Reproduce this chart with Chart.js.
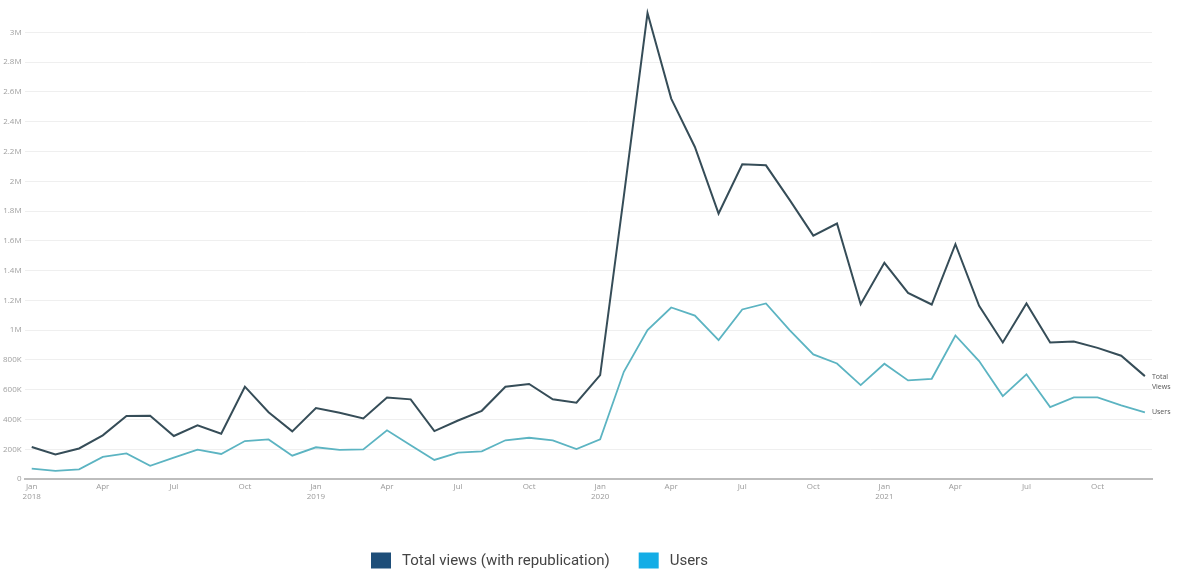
<!DOCTYPE html>
<html>
<head>
<meta charset="utf-8">
<script src="https://cdn.jsdelivr.net/npm/chart.js@4.4.0/dist/chart.umd.min.js"></script>
<style>
  html, body { margin: 0; padding: 0; background: #ffffff; }
  #wrap { width: 1177px; height: 571px; position: relative; }
</style>
</head>
<body>
<div id="wrap"><canvas id="chart"></canvas></div>
<script>
// Monthly series, Jan 2018 – Dec 2021
const monthNames = ['Jan','Feb','Mar','Apr','May','Jun','Jul','Aug','Sep','Oct','Nov','Dec'];
const years = [2018, 2019, 2020, 2021];
const months = years.flatMap(y => monthNames.map(m => m + ' ' + y));

const totalViews = [
  215000, 165000, 205000, 293000, 423000, 425000, 289000, 360000, 304000, 620000, 448000, 320000,
  477000, 445000, 407000, 548000, 535000, 322000, 393000, 458000, 620000, 638000, 535000, 512000,
  698000, 1900000, 3130000, 2555000, 2230000, 1783000, 2114000, 2107000, 1875000, 1635000, 1716000, 1174000,
  1452000, 1250000, 1172000, 1577000, 1163000, 917000, 1179000, 917000, 924000, 881000, 828000, 691000
];

const users = [
  69000, 54000, 65000, 148000, 172000, 89000, 143000, 197000, 168000, 255000, 266000, 157000,
  213000, 195000, 199000, 327000, 226000, 128000, 177000, 186000, 260000, 277000, 260000, 201000,
  266000, 720000, 1000000, 1152000, 1098000, 933000, 1139000, 1179000, 1000000, 837000, 776000, 631000,
  774000, 662000, 673000, 964000, 792000, 557000, 703000, 483000, 548000, 548000, 494000, 447000
];

// Quarterly tick labels (every third month)
const tickLabels = [
  ['Jan', '2018'], 'Apr', 'Jul', 'Oct',
  ['Jan', '2019'], 'Apr', 'Jul', 'Oct',
  ['Jan', '2020'], 'Apr', 'Jul', 'Oct',
  ['Jan', '2021'], 'Apr', 'Jul', 'Oct'
];

// Value-axis ticks
const yTickValues = [
  0, 200000, 400000, 600000, 800000, 1000000, 1200000, 1400000,
  1600000, 1800000, 2000000, 2200000, 2400000, 2600000, 2800000, 3000000
];

const seriesNames = ['Total views (with republication)', 'Users'];
const endLabelTexts = [['Total', 'Views'], ['Users']];

const lineColors = ['#364d58', '#5cb4c2'];
const legendColors = ['#1e4e79', '#14ade6'];

const toPoints = arr => arr.map((v, i) => ({ x: i, y: v }));

// Small text beside the final point of each line
const endLabels = {
  id: 'endLabels',
  afterDatasetsDraw(chart) {
    const ctx = chart.ctx;
    ctx.save();
    ctx.font = '7px "Open Sans", sans-serif';
    ctx.fillStyle = '#555555';
    ctx.textBaseline = 'middle';
    ctx.textAlign = 'left';
    chart.data.datasets.forEach((ds, i) => {
      const meta = chart.getDatasetMeta(i);
      const last = meta.data[meta.data.length - 1];
      const lines = endLabelTexts[i];
      const startY = lines.length > 1 ? last.y + 1 : last.y;
      lines.forEach((t, j) => ctx.fillText(t, last.x + 7, startY + j * 10));
    });
    ctx.restore();
  }
};

// Legend row along the bottom of the canvas
const bottomLegend = {
  id: 'bottomLegend',
  afterDraw(chart) {
    const ctx = chart.ctx;
    const boxW = 20, boxH = 16, boxGap = 11, itemGap = 29;
    const rowMid = chart.height - 10.5;
    let x = 371;
    ctx.save();
    ctx.font = '15px Roboto, sans-serif';
    ctx.textBaseline = 'middle';
    ctx.textAlign = 'left';
    chart.data.datasets.forEach((ds, i) => {
      ctx.fillStyle = legendColors[i];
      ctx.fillRect(x, rowMid - boxH / 2, boxW, boxH);
      x += boxW + boxGap;
      ctx.fillStyle = '#444444';
      ctx.fillText(ds.label, x, rowMid + 0.5);
      x += ctx.measureText(ds.label).width + itemGap;
    });
    ctx.restore();
  }
};

const fmtY = v => {
  if (v === 0) return '0';
  if (v < 1000000) return (v / 1000) + 'K';
  return (Math.round(v / 100000) / 10) + 'M';
};

new Chart(document.getElementById('chart'), {
  type: 'line',
  data: {
    datasets: [
      {
        label: seriesNames[0],
        data: toPoints(totalViews),
        borderColor: lineColors[0],
        backgroundColor: legendColors[0],
        borderWidth: 2,
        pointRadius: 0,
        tension: 0
      },
      {
        label: seriesNames[1],
        data: toPoints(users),
        borderColor: lineColors[1],
        backgroundColor: legendColors[1],
        borderWidth: 1.8,
        pointRadius: 0,
        tension: 0
      }
    ]
  },
  options: {
    responsive: true,
    maintainAspectRatio: false,
    animation: false,
    layout: { padding: { left: 0, right: 25, top: 2, bottom: 0 } },
    plugins: {
      tooltip: { enabled: false },
      legend: { display: false }
    },
    scales: {
      x: {
        type: 'linear',
        min: -0.3,
        max: 47.3,
        afterBuildTicks(scale) {
          scale.ticks = tickLabels.map((_, k) => ({ value: k * 3 }));
        },
        afterFit(scale) {
          scale.height = 92;
        },
        grid: { display: false, drawTicks: false },
        border: { display: true, color: '#bdbdbd', width: 2 },
        ticks: {
          autoSkip: false,
          maxRotation: 0,
          padding: 3,
          color: '#9a9a9a',
          font: { family: '"Open Sans", sans-serif', size: 8, lineHeight: 1.25 },
          callback: (v) => tickLabels[Math.round(v / 3)]
        }
      },
      y: {
        min: 0,
        max: 3165000,
        afterBuildTicks(scale) {
          scale.ticks = yTickValues.map(v => ({ value: v }));
        },
        grid: { color: '#efefef', lineWidth: 1, drawTicks: false },
        border: { display: false },
        ticks: {
          padding: 3,
          color: '#a0a0a0',
          font: { family: '"Open Sans", sans-serif', size: 8 },
          callback: fmtY
        }
      }
    }
  },
  plugins: [endLabels, bottomLegend]
});
</script>
</body>
</html>
